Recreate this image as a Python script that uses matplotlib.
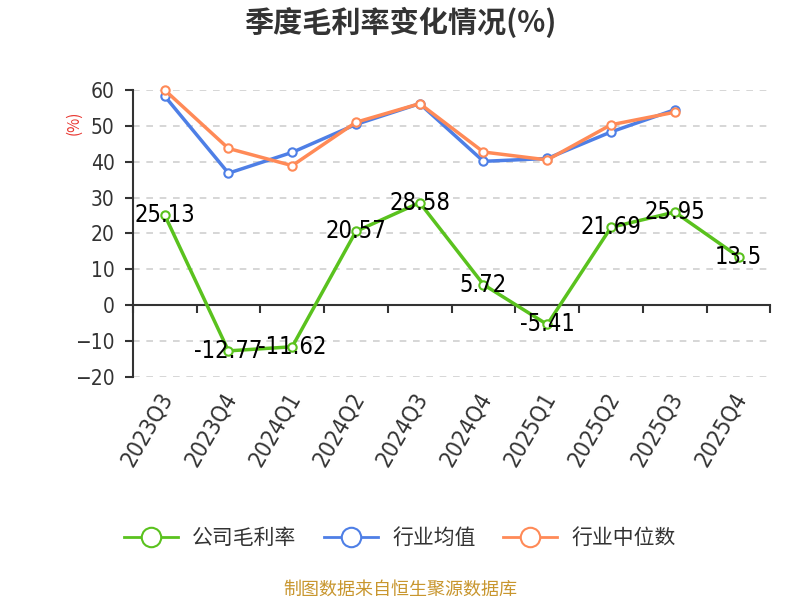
import numpy as np
import matplotlib
matplotlib.use("Agg")
import matplotlib.pyplot as plt
import matplotlib.transforms as mtransforms
from matplotlib.lines import Line2D

plt.rcParams['font.family'] = ['Noto Sans CJK SC', 'DejaVu Sans']
plt.rcParams['axes.unicode_minus'] = True

# data
quarters = ['2023Q3', '2023Q4', '2024Q1', '2024Q2', '2024Q3',
            '2024Q4', '2025Q1', '2025Q2', '2025Q3', '2025Q4']
company = [25.13, -12.77, -11.62, 20.57, 28.58, 5.72, -5.41, 21.69, 25.95, 13.5]
ind_mean = [58.3, 36.8, 42.6, 50.4, 56.2, 40.1, 40.9, 48.3, 54.5]
ind_median = [60.0, 43.7, 38.9, 51.0, 56.2, 42.7, 40.5, 50.3, 53.8]
yticks = [-20, -10, 0, 10, 20, 30, 40, 50, 60]

c_green = '#5ac21e'
c_blue = '#4e7fe6'
c_orange = '#ff8a57'
c_axis = '#333333'
num_font = ['DejaVu Sans']

fig = plt.figure(figsize=(8, 6), dpi=100)
ax = fig.add_axes([0.166, 0.372, 0.797, 0.478])

x = np.arange(len(quarters))
for vals, col in [(ind_mean, c_blue), (ind_median, c_orange), (company, c_green)]:
    xi = np.arange(len(vals))
    ax.plot(xi, vals, color=col, lw=2.5, marker='o', ms=6, mfc='white',
            mec=col, mew=1.5, clip_on=False, zorder=3)

for xi, v in zip(x, company):
    ax.text(xi, v, f'{v:g}', ha='center', va='center', fontsize=17,
            color='black', zorder=4, family=num_font, fontstretch='condensed')

ax.set_xlim(-0.5, len(quarters) - 0.5)
ax.set_ylim(-20, 60)
ax.set_yticks(yticks)
ax.set_yticklabels([str(t).replace('-', '\u2212') for t in yticks],
                   family=num_font, fontstretch='condensed')
ax.tick_params(axis='y', labelsize=15, colors=c_axis, length=6, width=1.5,
               labelcolor='#333333', pad=7)
for t in yticks:
    if t != 0:
        ax.axhline(t, color='#d0d0d0', lw=1.2, ls=(0, (4, 4)), zorder=1)

ax.spines['top'].set_visible(False)
ax.spines['right'].set_visible(False)
ax.spines['left'].set_color(c_axis)
ax.spines['left'].set_linewidth(1.5)
ax.spines['bottom'].set_position(('data', 0))
ax.spines['bottom'].set_color(c_axis)
ax.spines['bottom'].set_linewidth(1.5)

ax.set_xticks(np.arange(-0.5, len(quarters), 1.0))
ax.set_xticklabels([])
ax.tick_params(axis='x', direction='out', length=6, width=1.5, colors=c_axis)

sec = ax.secondary_xaxis('bottom')
sec.set_xticks(x)
sec.set_xticklabels(quarters, rotation=60, ha='right', rotation_mode='anchor',
                    family=num_font, fontstretch='condensed')
sec.tick_params(length=0, labelsize=16.5, labelcolor='#333333', pad=8)
sec.spines['bottom'].set_visible(False)
shift = mtransforms.ScaledTranslation(-7 / 100, 0, fig.dpi_scale_trans)
for lab in sec.get_xticklabels():
    lab.set_transform(lab.get_transform() + shift)

ax.text(-0.092, 0.885, '(%)', transform=ax.transAxes, rotation=90, color='#e8352f',
        fontsize=11, ha='center', va='center')

fig.text(0.5, 0.962, '季度毛利率变化情况(%)', ha='center', va='center',
         fontsize=21, fontweight='bold', color='#333333')

handles = [Line2D([0], [0], color=c, lw=2, marker='o', ms=14, mfc='white', mec=c, mew=1.5)
           for c in (c_green, c_blue, c_orange)]
fig.legend(handles, ['公司毛利率', '行业均值', '行业中位数'], loc='center',
           bbox_to_anchor=(0.5, 0.103), ncol=3, frameon=False, fontsize=15,
           handlelength=2.6, columnspacing=1.3, handletextpad=0.7,
           labelcolor='#333333')

fig.text(0.5, 0.017, '制图数据来自恒生聚源数据库', ha='center', va='center',
         fontsize=13, color='#c8962e')

fig.savefig('out.png', dpi=100)
